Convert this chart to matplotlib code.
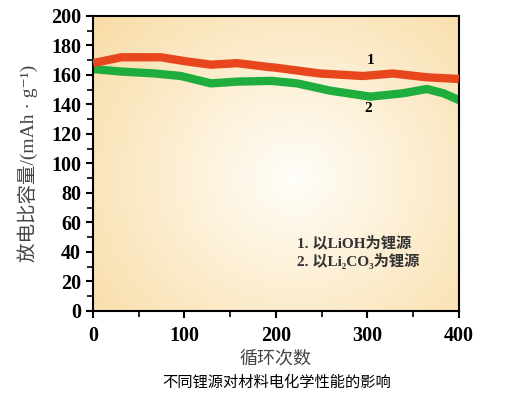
import numpy as np
import matplotlib.pyplot as plt

# data
cyc_1 = [0, 31, 74, 104, 129, 158, 193, 199, 248, 295, 328, 365, 400]
cap_1 = [168, 172, 172, 169, 167, 168, 165.3, 165, 161, 159.3, 161, 158.4, 157.3]
cyc_2 = [0, 31, 68, 96, 129, 158, 195, 223, 259, 303, 339, 365, 383, 400]
cap_2 = [164, 162.3, 161, 159.3, 154.3, 155.5, 156, 154.3, 149.4, 145.3, 147.6, 150.5, 147.6, 143]

x_ticks = [0, 100, 200, 300, 400]
y_ticks = [0, 20, 40, 60, 80, 100, 120, 140, 160, 180, 200]

serif = ['Liberation Serif', 'DejaVu Serif', 'Noto Sans CJK SC']

fig = plt.figure(figsize=(5.11, 3.99), dpi=100)
ax = fig.add_axes([0.182, 0.2206, 0.716, 0.7394])

# radial-ish background gradient
gx, gy = np.meshgrid(np.linspace(0, 1, 300), np.linspace(0, 1, 300))
d = np.sqrt(((gx - 0.55) / 0.75) ** 2 + ((gy - 0.45) / 0.85) ** 2)
d = np.clip(d, 0, 1)
c_in = np.array([1.0, 0.995, 0.975])
c_out = np.array([0.975, 0.86, 0.64])
img = c_in[None, None, :] * (1 - d[..., None]) + c_out[None, None, :] * d[..., None]
ax.imshow(img, extent=[0, 1, 0, 1], transform=ax.transAxes, origin='lower',
          aspect='auto', zorder=0)

ax.plot(cyc_1, cap_1, color='#e8471d', lw=6, solid_capstyle='butt',
        solid_joinstyle='round', zorder=3)
ax.plot(cyc_2, cap_2, color='#1fae3e', lw=6, solid_capstyle='round',
        solid_joinstyle='round', zorder=2)

ax.text(303, 170, '1', fontsize=11, fontweight='bold', family=serif, ha='center', va='center')
ax.text(301, 137, '2', fontsize=11, fontweight='bold', family=serif, ha='center', va='center')

ax.text(223, 46, '1. 以LiOH为锂源', fontsize=11, fontweight='bold', family=serif,
        color='#333333', va='center')
ax.text(223, 34, '2. 以Li₂CO₃为锂源', fontsize=11, fontweight='bold', family=serif,
        color='#333333', va='center')

ax.set_xlim(0, 400)
ax.set_ylim(0, 200)
ax.set_xticks(x_ticks)
ax.set_yticks(y_ticks)
ax.set_xticks(np.arange(50, 400, 100), minor=True)
ax.set_yticks(np.arange(10, 200, 20), minor=True)
ax.tick_params(direction='out', length=5, width=1.5, labelsize=14.5)
ax.tick_params(axis='x', pad=6)
ax.tick_params(which='minor', direction='out', length=4, width=1.2)
for lab in ax.get_xticklabels() + ax.get_yticklabels():
    lab.set_family('Liberation Serif')
    lab.set_fontweight('bold')
for s in ax.spines.values():
    s.set_linewidth(1.5)

ax.set_ylabel('放电比容量/(mAh · g⁻¹)', fontsize=14, family=serif, color='#444444')
ax.yaxis.set_label_coords(-0.15, 0.5)
ax.set_xlabel('循环次数', fontsize=13, family=serif, color='#444444', labelpad=3)

fig.text(0.542, 0.043, '不同锂源对材料电化学性能的影响', fontsize=11,
         family=['Noto Sans CJK SC', 'DejaVu Sans'], ha='center', va='center')

fig.savefig('out.png', dpi=100)
